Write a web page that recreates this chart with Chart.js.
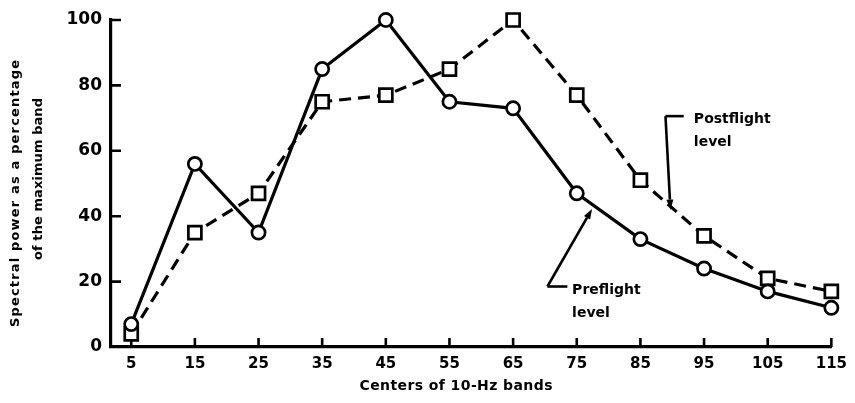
<!DOCTYPE html>
<html>
<head>
<meta charset="utf-8">
<script src="https://cdn.jsdelivr.net/npm/chart.js@4/dist/chart.umd.min.js"></script>
<style>
  html, body { margin: 0; padding: 0; background: #fff; }
  #wrap { width: 855px; height: 403px; }
</style>
</head>
<body>
<div id="wrap"><canvas id="c" width="855" height="403"></canvas></div>
<script>
// Band centres (Hz) and spectral power (% of the maximum band)
const bandCenters = [5, 15, 25, 35, 45, 55, 65, 75, 85, 95, 105, 115];
const preflight   = [7, 56, 35, 85, 100, 75, 73, 47, 33, 24, 17, 12];
const postflight  = [4, 35, 47, 75, 77, 85, 100, 77, 51, 34, 21, 17];
const yTickValues = [0, 20, 40, 60, 80, 100];

const xTitle = 'Centers of 10-Hz bands';
const yTitleLines = ['Spectral power as a percentage', 'of the maximum band'];
const seriesNames = ['Preflight', 'Postflight'];

// Callout labels, anchored in data units (x = Hz, y = percent)
const callouts = [
  { lines: ['Postflight', 'level'], textX: 93.4, textY: [68.6, 61.4],
    path: [[91.8, 70.6], [88.94, 70.6], [89.72, 42.0]] },
  { lines: ['Preflight', 'level'], textX: 74.27, textY: [16.2, 9.3],
    path: [[73.52, 18.5], [70.39, 18.5], [77.4, 42.2]] }
];

const FONT = '"DejaVu Sans", "Liberation Sans", sans-serif';
const INK = '#000';

function toPoints(values) {
  return bandCenters.map((x, i) => ({ x: x, y: values[i] }));
}

// Draw text spread to a given total width
function drawSpread(ctx, text, cx, cy, width) {
  const chars = Array.from(text);
  const widths = chars.map(c => ctx.measureText(c).width);
  const natural = widths.reduce((a, b) => a + b, 0);
  const gap = chars.length > 1 ? (width - natural) / (chars.length - 1) : 0;
  let x = cx - width / 2;
  ctx.textAlign = 'left';
  chars.forEach((c, i) => {
    ctx.fillText(c, x, cy);
    x += widths[i] + gap;
  });
}

function arrowLine(ctx, x0, y0, x1, y1) {
  const ang = Math.atan2(y1 - y0, x1 - x0);
  const len = 10, half = 3.5;
  const bx = x1 - len * Math.cos(ang), by = y1 - len * Math.sin(ang);
  ctx.beginPath();
  ctx.moveTo(x0, y0);
  ctx.lineTo(bx, by);
  ctx.stroke();
  ctx.beginPath();
  ctx.moveTo(x1, y1);
  ctx.lineTo(bx + half * Math.sin(ang), by - half * Math.cos(ang));
  ctx.lineTo(bx - half * Math.sin(ang), by + half * Math.cos(ang));
  ctx.closePath();
  ctx.fill();
}

// Short tick marks pointing into the plot from both axes
const inwardTicks = {
  id: 'inwardTicks',
  beforeDatasetsDraw(chart) {
    const { ctx, scales: { x, y } } = chart;
    ctx.save();
    ctx.strokeStyle = INK;
    ctx.lineWidth = 2.6;
    ctx.beginPath();
    y.ticks.forEach(t => {
      if (t.value === 0) return;
      const py = y.getPixelForValue(t.value);
      ctx.moveTo(x.left, py);
      ctx.lineTo(x.left + 10, py);
    });
    x.ticks.forEach(t => {
      const px = x.getPixelForValue(t.value);
      ctx.moveTo(px, y.bottom);
      ctx.lineTo(px, y.bottom - 9);
    });
    ctx.stroke();
    ctx.restore();
  }
};

// Axis titles and callouts
const annotations = {
  id: 'annotations',
  afterDraw(chart) {
    const { ctx, scales: { x, y } } = chart;
    ctx.save();
    ctx.fillStyle = INK;
    ctx.strokeStyle = INK;
    ctx.textBaseline = 'middle';

    ctx.font = 'bold 14px ' + FONT;
    drawSpread(ctx, xTitle, 456, 386, 193);

    ctx.font = 'bold 13px ' + FONT;
    const yt = [{ cx: 16, cy: 193.5, w: 267 }, { cx: 39, cy: 179, w: 162 }];
    yTitleLines.forEach((line, i) => {
      ctx.save();
      ctx.translate(yt[i].cx, yt[i].cy);
      ctx.rotate(-Math.PI / 2);
      drawSpread(ctx, line, 0, 0, yt[i].w);
      ctx.restore();
    });

    ctx.lineWidth = 2.6;
    ctx.lineJoin = 'miter';
    ctx.font = 'bold 14px ' + FONT;
    ctx.textBaseline = 'alphabetic';
    ctx.textAlign = 'left';
    callouts.forEach(c => {
      const pts = c.path.map(p => [x.getPixelForValue(p[0]), y.getPixelForValue(p[1])]);
      ctx.beginPath();
      ctx.moveTo(pts[0][0], pts[0][1]);
      for (let i = 1; i < pts.length - 1; i++) ctx.lineTo(pts[i][0], pts[i][1]);
      ctx.stroke();
      const a = pts[pts.length - 2], b = pts[pts.length - 1];
      arrowLine(ctx, a[0], a[1], b[0], b[1]);
      c.lines.forEach((t, i) => {
        ctx.fillText(t, x.getPixelForValue(c.textX), y.getPixelForValue(c.textY[i]));
      });
    });
    ctx.restore();
  }
};

new Chart(document.getElementById('c'), {
  type: 'line',
  data: {
    datasets: [
      {
        label: seriesNames[0],
        data: toPoints(preflight),
        borderColor: INK,
        borderWidth: 3.2,
        tension: 0,
        pointStyle: 'circle',
        pointRadius: 6.6,
        pointBorderWidth: 2.7,
        pointBorderColor: INK,
        pointBackgroundColor: '#fff',
        clip: false
      },
      {
        label: seriesNames[1],
        data: toPoints(postflight),
        borderColor: INK,
        borderWidth: 3.2,
        borderDash: [12, 7],
        tension: 0,
        pointStyle: 'rect',
        pointRadius: 9.2,
        pointBorderWidth: 2.7,
        pointBorderColor: INK,
        pointBackgroundColor: '#fff',
        clip: false
      }
    ]
  },
  options: {
    responsive: false,
    animation: false,
    devicePixelRatio: 1,
    layout: { padding: { top: 20, right: 22, left: 0, bottom: 0 } },
    plugins: { legend: { display: false }, tooltip: { enabled: false } },
    scales: {
      x: {
        type: 'linear',
        min: 1.82,
        max: 115,
        afterBuildTicks(s) { s.ticks = bandCenters.map(v => ({ value: v })); },
        afterFit(s) { s.height = 56; },
        ticks: {
          color: INK,
          font: { family: FONT, size: 15, weight: 'bold' },
          padding: 8,
          maxRotation: 0,
          autoSkip: false
        },
        grid: { drawOnChartArea: false, drawTicks: false },
        border: { color: INK, width: 3.2 }
      },
      y: {
        min: 0,
        max: 100,
        afterBuildTicks(s) { s.ticks = yTickValues.map(v => ({ value: v })); },
        afterFit(s) { s.width = 111; },
        ticks: {
          color: INK,
          font: { family: FONT, size: 17, weight: 'bold' },
          padding: 9
        },
        grid: { drawOnChartArea: false, drawTicks: false },
        border: { color: INK, width: 3.2 }
      }
    }
  },
  plugins: [inwardTicks, annotations]
});
</script>
</body>
</html>
